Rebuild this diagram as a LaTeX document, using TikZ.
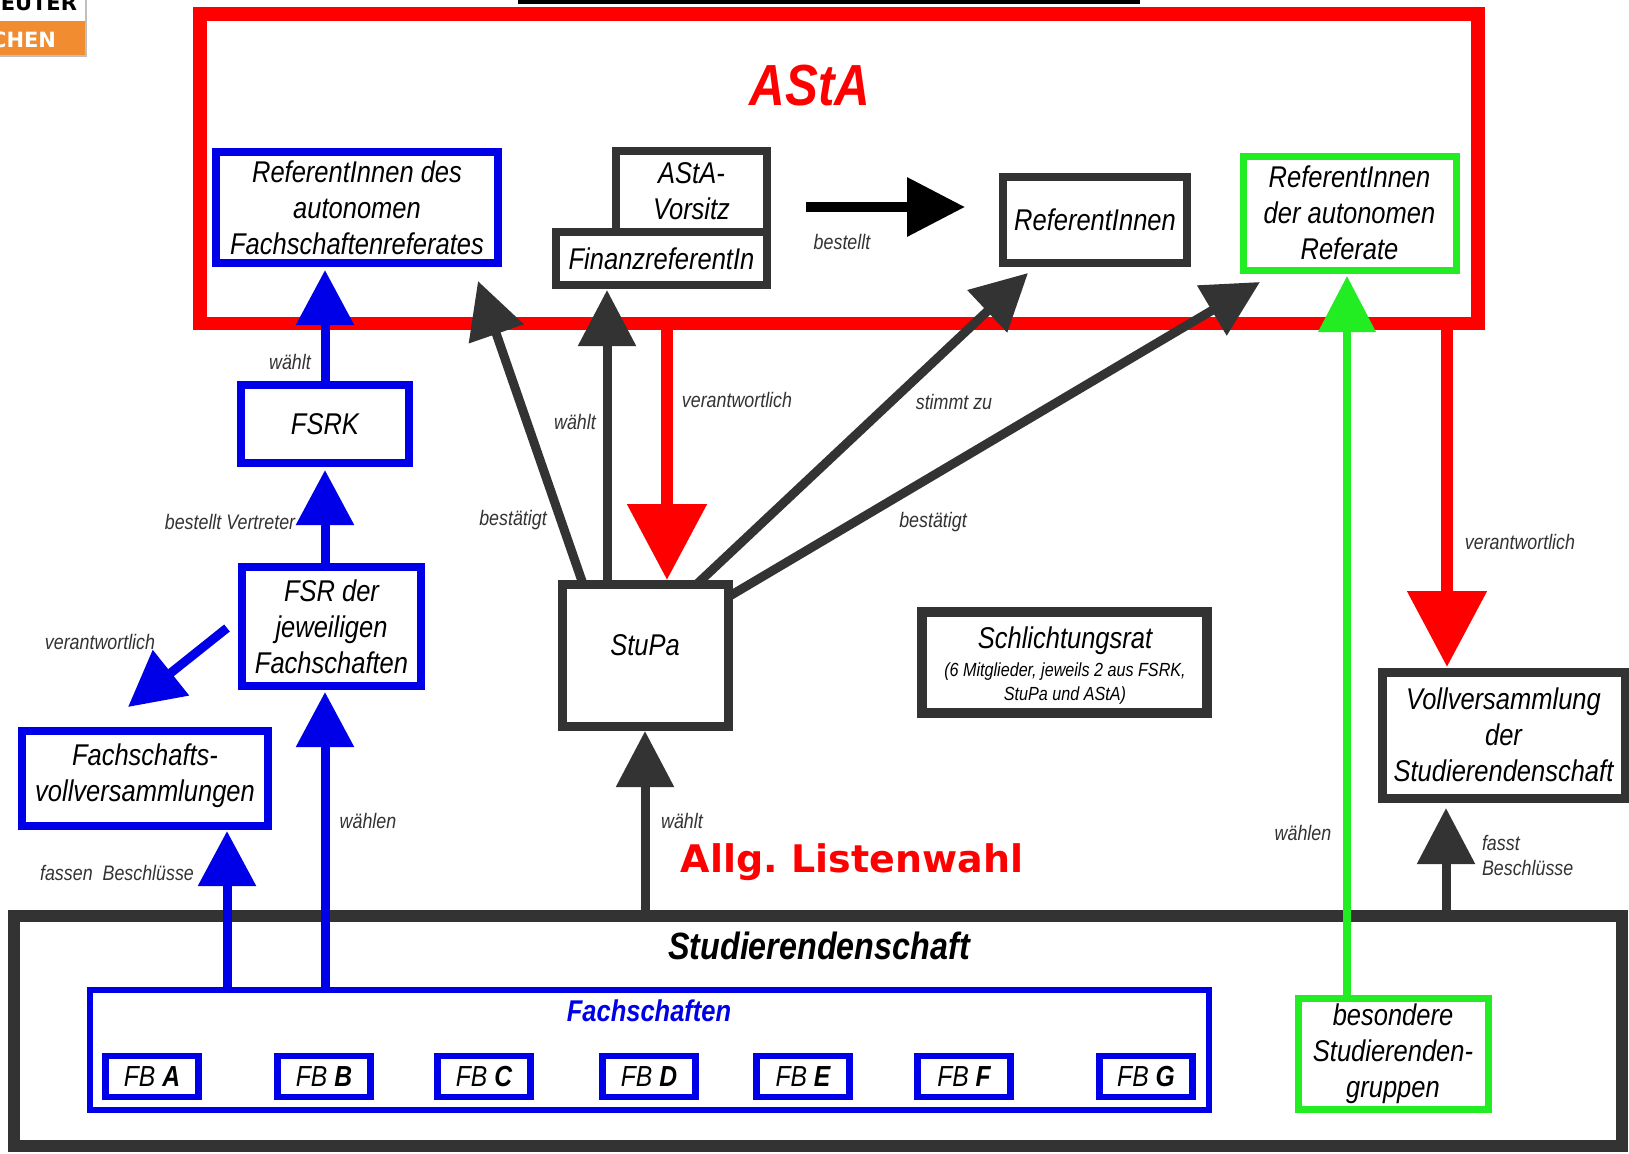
\documentclass[tikz,border=0pt]{standalone}
\usepackage{fontspec}
\setmainfont{Liberation Sans}[FakeStretch=0.85]
\newfontfamily\dejab{DejaVu Sans}
\usetikzlibrary{arrows.meta}
\definecolor{myred}{RGB}{255,0,0}
\definecolor{myblue}{RGB}{0,0,232}
\definecolor{mygreen}{RGB}{34,236,34}
\definecolor{dgray}{RGB}{51,51,51}
\definecolor{logoorange}{RGB}{242,140,48}
\begin{document}
\begin{tikzpicture}[x=0.5pt,y=-0.5pt,
  every node/.style={inner sep=0pt,outer sep=0pt},
  box/.style={draw,fill=white,align=center,text=black,font=\itshape\fontsize{15}{18}\selectfont},
  bluebox/.style={box,draw=myblue,line width=4.25pt},
  darkbox/.style={box,draw=dgray,line width=4.25pt},
  greenbox/.style={box,draw=mygreen,line width=3.5pt},
  fbbox/.style={box,draw=myblue,line width=3.25pt,minimum width=46.5pt,minimum height=20.5pt,font=\itshape\fontsize{14.5}{17}\selectfont},
  lab/.style={text=dgray,font=\itshape\fontsize{10.5}{12.5}\selectfont},
  bluearrow/.style={draw=myblue,line width=4.5pt,-{Triangle[length=27.5pt,width=28pt]}},
  darkarrow/.style={draw=dgray,line width=4.5pt,-{Triangle[length=28pt,width=28pt]}},
  redarrow/.style={draw=myred,line width=6pt,-{Triangle[length=38pt,width=38.5pt]}},
  greenarrow/.style={draw=mygreen,line width=3.75pt,-{Triangle[length=28pt,width=28pt]}},
  blackarrow/.style={draw=black,line width=5pt,-{Triangle[length=29pt,width=28.5pt]}}
]
\useasboundingbox (0,0) rectangle (1629,1153);
\clip (0,0) rectangle (1629,1153);
\fill[white] (0,0) rectangle (1629,1153);

% logo fragment
\fill[logoorange] (0,21) rectangle (86,56);
\draw[black!25,line width=0.75pt] (86,0) -- (86,56) -- (0,56);
\node[anchor=base east,font=\dejab\bfseries\fontsize{10.5}{12}\selectfont,text=black] (logoA) at (77,10) {EUTER};
\node[anchor=base east,font=\dejab\bfseries\fontsize{10.5}{12}\selectfont,text=white] (logoB) at (56,47) {CHEN};

% top black line
\fill[black] (518,-1) rectangle (1140,3.5);

% AStA frame
\draw[myred,line width=6.75pt] (200,14) rectangle (1478,323.5);
\node[text=myred,font=\bfseries\itshape\fontsize{29}{34}\selectfont] (astaT) at (810,86) {AStA};

% Studierendenschaft
\node[darkbox,line width=6pt,minimum width=804pt,minimum height=115pt] (stud) at (818,1031) {};
\node[font=\bfseries\itshape\fontsize{19}{22}\selectfont,text=black] (studT) at (819,946) {Studierendenschaft};
\node[bluebox,line width=3pt,minimum width=559.5pt,minimum height=60pt] (fach) at (649.5,1050) {};
\node[font=\bfseries\itshape\fontsize{15}{18}\selectfont,text=myblue] (fachT) at (649,1011) {Fachschaften};
\node[fbbox] (fbA) at (152,1076.5) {FB \textbf{A}};
\node[fbbox] (fbB) at (324,1076.5) {FB \textbf{B}};
\node[fbbox] (fbC) at (484,1076.5) {FB \textbf{C}};
\node[fbbox] (fbD) at (649,1076.5) {FB \textbf{D}};
\node[fbbox] (fbE) at (803,1076.5) {FB \textbf{E}};
\node[fbbox] (fbF) at (964,1076.5) {FB \textbf{F}};
\node[fbbox] (fbG) at (1146,1076.5) {FB \textbf{G}};
\node[greenbox,minimum width=95pt,minimum height=55.5pt] (bes) at (1393,1053.5) {besondere\\Studierenden-\\gruppen};

% boxes
\node[bluebox,minimum width=141pt,minimum height=55.5pt] (refFSR) at (357,207.5) {ReferentInnen des\\autonomen\\Fachschaftenreferates};
\node[darkbox,line width=4pt,minimum width=105.5pt,minimum height=26.5pt] (finanz) at (661.5,258.5) {FinanzreferentIn};
\node[darkbox,line width=4pt,minimum width=75.5pt,minimum height=40.5pt] (vorsitz) at (691.5,191.5) {AStA-\\Vorsitz};
\node[darkbox,line width=4pt,minimum width=92pt,minimum height=43pt] (refs) at (1095,220) {ReferentInnen};
\node[greenbox,minimum width=106.5pt,minimum height=57pt] (autref) at (1349.5,213) {ReferentInnen\\der autonomen\\Referate};
\node[bluebox,minimum width=84pt,minimum height=39pt] (fsrk) at (325,424) {FSRK};
\node[bluebox,minimum width=89.5pt,minimum height=59.5pt] (fsr) at (331.5,626.5) {FSR der\\jeweiligen\\Fachschaften};
\node[bluebox,minimum width=123pt,minimum height=47.5pt] (fvv) at (145,778.5) {};
\node[align=center,font=\itshape\fontsize{15}{18}\selectfont] (fvvT) at (145,776) {Fachschafts-\\vollversammlungen};
\node[darkbox,line width=4.5pt,minimum width=83pt,minimum height=71pt] (stupa) at (645,655) {};
\node[font=\itshape\fontsize{15}{18}\selectfont] (stupaT) at (645,645) {StuPa};
\node[darkbox,line width=5pt,minimum width=142.5pt,minimum height=50.5pt] (schl) at (1064.5,662.5) {};
\node[font=\itshape\fontsize{15}{18}\selectfont] (schlT) at (1065,641) {Schlichtungsrat};
\node[align=center,font=\itshape\fontsize{9.5}{12}\selectfont] (schlS) at (1065,684) {(6 Mitglieder, jeweils 2 aus FSRK,\\StuPa und AStA)};
\node[darkbox,line width=4.5pt,minimum width=121.5pt,minimum height=63pt] (vv) at (1503.5,735) {Vollversammlung\\der\\Studierendenschaft};

% free coordinates
\coordinate (vaTail) at (227,628);
\coordinate (vaTip) at (128,707);
\coordinate (b1Tip) at (478,281);
\coordinate (szTip) at (1028,273);
\coordinate (b2Tail) at (728,597);
\coordinate (b2Tip) at (1260,282);
\coordinate (bestTail) at (806,207);
\coordinate (bestTip) at (965,207);
\coordinate (redMid) at (667,323.5);
\coordinate (redRight) at (1447,323.5);

% blue arrows
\draw[bluearrow] (fsrk.north) -- ([yshift=-3.5pt]fsrk.north |- refFSR.south);
\draw[bluearrow] (fsrk.south |- fsr.north) -- ([yshift=-3.5pt]fsrk.south);
\draw[bluearrow] (vaTail) -- (vaTip);
\draw[bluearrow] (227,990) -- ([yshift=-2.5pt]227,826);
\draw[bluearrow] (325,990) -- ([yshift=-3pt]325,686);

% dark arrows from StuPa
\draw[darkarrow] (583,584) -- (b1Tip);
\draw[darkarrow] (607,584) -- ([yshift=-2.5pt]607,285);
\draw[darkarrow] (697,584) -- (szTip);
\draw[darkarrow] (b2Tail) -- (b2Tip);
\draw[darkarrow] (stupa.south |- stud.north) -- ([yshift=-2.5pt]stupa.south);
\draw[darkarrow] (1446,916) -- ([yshift=-5pt]1446,798);

% red arrows
\draw[redarrow] (redMid) -- (667,580);
\draw[redarrow] (redRight) -- ([yshift=2.5pt]1447,672);

% bestellt
\draw[blackarrow] (bestTail) -- (bestTip);

% green
\draw[greenarrow] (bes.north -| 1347,0) -- ([yshift=-3pt]1347,270);

% labels
\node[lab] (l1) at (290,362) {wählt};
\node[lab] (l2) at (230,522) {bestellt Vertreter};
\node[lab] (l3) at (100,642) {verantwortlich};
\node[lab] (l4) at (117,873) {fassen\ \ Beschlüsse};
\node[lab] (l5) at (368,821) {wählen};
\node[lab] (l6) at (513,520) {bestätigt};
\node[lab] (l7) at (575,422) {wählt};
\node[lab] (l8) at (737,400) {verantwortlich};
\node[lab] (l9) at (954,402) {stimmt zu};
\node[lab] (l10) at (933,522) {bestätigt};
\node[lab] (l11) at (842,242) {bestellt};
\node[lab] (l12) at (682,821) {wählt};
\node[lab] (l13) at (1303,833) {wählen};
\node[lab] (l14) at (1520,542) {verantwortlich};
\node[lab,anchor=west,align=left] (l15) at (1482,855) {fasst\\Beschlüsse};
\node[text=myred,font=\dejab\bfseries\fontsize{19}{23}\selectfont] (listen) at (852,862) {Allg.\hspace{-2pt} Listenwahl};
\end{tikzpicture}
\end{document}
